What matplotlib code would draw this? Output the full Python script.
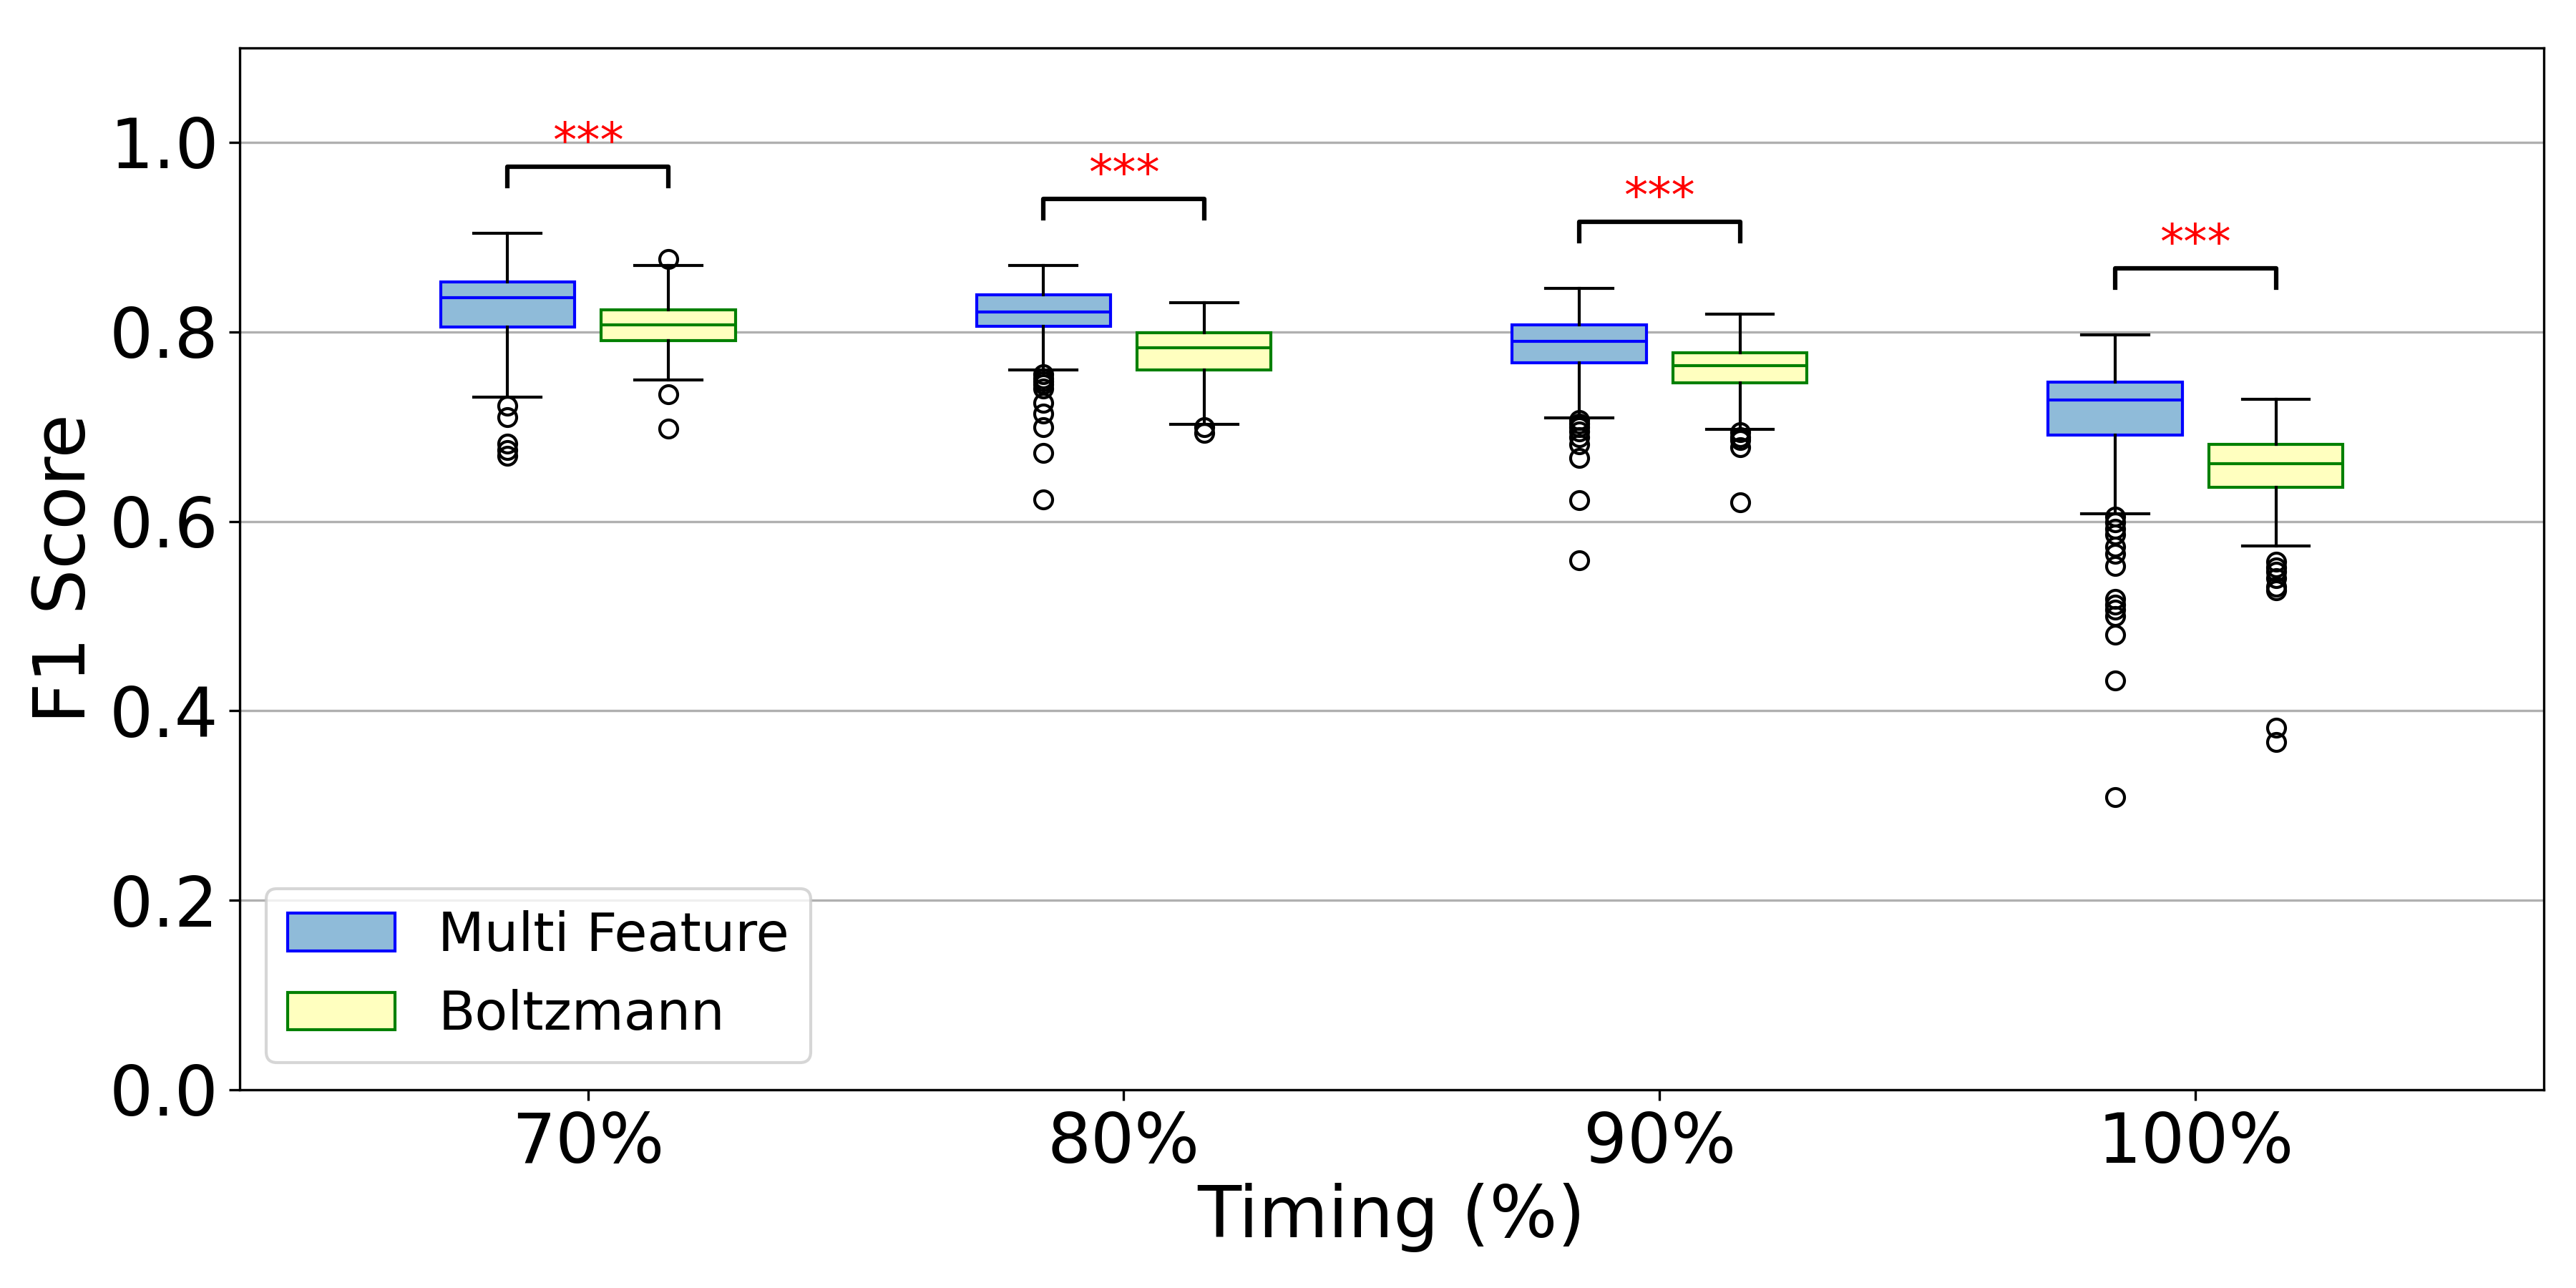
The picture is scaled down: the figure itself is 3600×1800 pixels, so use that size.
import matplotlib
matplotlib.use("Agg")
import matplotlib.pyplot as plt
from matplotlib.patches import Patch
import numpy as np

# timing groups
timings = ['70%', '80%', '90%', '100%']
series = ['Multi Feature', 'Boltzmann']

# box stats: whislo, q1, median, q3, whishi
mf_whislo = [0.731, 0.760, 0.709, 0.608]
mf_q1 = [0.805, 0.806, 0.767, 0.691]
mf_med = [0.836, 0.821, 0.790, 0.728]
mf_q3 = [0.853, 0.839, 0.807, 0.747]
mf_whishi = [0.904, 0.870, 0.846, 0.797]
mf_fliers = [
    [0.722, 0.710, 0.682, 0.675, 0.669],
    [0.755, 0.751, 0.748, 0.745, 0.740, 0.725, 0.714, 0.699, 0.672, 0.623],
    [0.707, 0.703, 0.699, 0.695, 0.689, 0.681, 0.667, 0.622, 0.559],
    [0.605, 0.599, 0.592, 0.586, 0.573, 0.566, 0.553, 0.518, 0.512, 0.507,
     0.500, 0.480, 0.432, 0.309],
]

bz_whislo = [0.749, 0.702, 0.697, 0.574]
bz_q1 = [0.791, 0.760, 0.746, 0.636]
bz_med = [0.807, 0.783, 0.764, 0.661]
bz_q3 = [0.823, 0.799, 0.778, 0.681]
bz_whishi = [0.870, 0.831, 0.819, 0.729]
bz_fliers = [
    [0.877, 0.734, 0.698],
    [0.699, 0.693],
    [0.694, 0.689, 0.686, 0.678, 0.620],
    [0.557, 0.551, 0.547, 0.540, 0.531, 0.527, 0.382, 0.367],
]

sig_labels = ['***', '***', '***', '***']


def make_stats(whislo, q1, med, q3, whishi, fliers):
    stats = []
    for i in range(len(med)):
        stats.append({'whislo': whislo[i], 'q1': q1[i], 'med': med[i],
                      'q3': q3[i], 'whishi': whishi[i],
                      'fliers': np.array(fliers[i])})
    return stats


mf_stats = make_stats(mf_whislo, mf_q1, mf_med, mf_q3, mf_whishi, mf_fliers)
bz_stats = make_stats(bz_whislo, bz_q1, bz_med, bz_q3, bz_whishi, bz_fliers)

x = np.arange(len(timings))
offset = 0.15
width = 0.25

fig, ax = plt.subplots(figsize=(12, 6), dpi=300)
fig.subplots_adjust(left=0.093, right=0.9875, bottom=0.154, top=0.963)

ax.set_axisbelow(True)
ax.yaxis.grid(True, color='#b0b0b0', linewidth=0.8)


def draw(stats, pos, face, edge):
    ax.bxp(stats, positions=pos, widths=width, patch_artist=True,
           boxprops=dict(facecolor=face, edgecolor=edge, linewidth=1.0),
           medianprops=dict(color=edge, linewidth=1.0),
           whiskerprops=dict(color='black', linewidth=1.0),
           capprops=dict(color='black', linewidth=1.0),
           flierprops=dict(marker='o', markerfacecolor='none',
                           markeredgecolor='black', markersize=6),
           manage_ticks=False)


draw(mf_stats, x - offset, '#8fbbd9', 'blue')
draw(bz_stats, x + offset, '#ffffbf', 'green')

# significance brackets
for i in range(len(timings)):
    top = max(mf_whishi[i], bz_whishi[i], max(mf_fliers[i]), max(bz_fliers[i]))
    y = top + 0.05
    h = 0.02
    ax.plot([x[i] - offset, x[i] - offset, x[i] + offset, x[i] + offset],
            [y, y + h, y + h, y], color='black', linewidth=1.5)
    ax.text(x[i], y + h, sig_labels[i], ha='center', va='bottom',
            color='red', fontsize=16)

ax.set_xticks(x)
ax.set_xticklabels(timings)
ax.set_xlim(-0.65, len(timings) - 1 + 0.65)
ax.set_ylim(0, 1.1)
ax.set_yticks([0.0, 0.2, 0.4, 0.6, 0.8, 1.0])
ax.tick_params(labelsize=23)
ax.set_xlabel('Timing (%)', fontsize=24, labelpad=2)
ax.set_ylabel('F1 Score', fontsize=24, labelpad=3)

handles = [Patch(facecolor='#8fbbd9', edgecolor='blue', label=series[0]),
           Patch(facecolor='#ffffbf', edgecolor='green', label=series[1])]
ax.legend(handles=handles, loc='lower left', fontsize=18)

fig.savefig('out.png', dpi=300)
